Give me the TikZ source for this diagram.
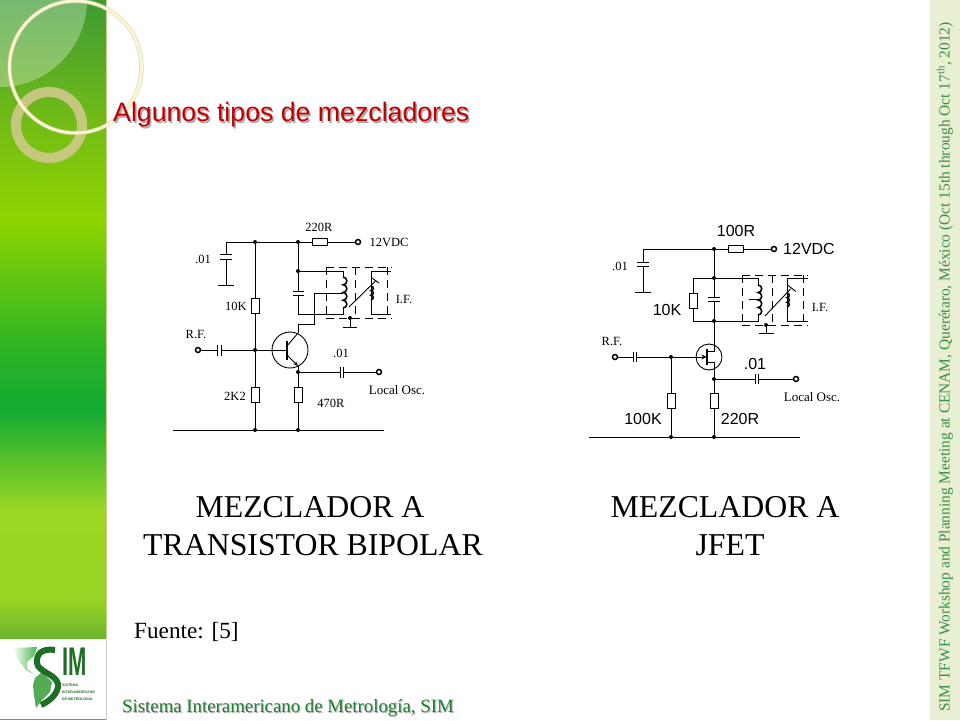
\documentclass[tikz,border=0pt]{standalone}
\usepackage{fontspec}
\setmainfont{Liberation Serif}
\newfontfamily\arialfont{Liberation Sans}
\usetikzlibrary{arrows.meta}

\definecolor{simgreen}{HTML}{1E6E24}
\definecolor{stripbg}{HTML}{E8EFD3}
\definecolor{striptext}{HTML}{3A8F45}
\definecolor{footgreen}{HTML}{1F8232}
\definecolor{titlered}{HTML}{C00000}
\definecolor{ringtan}{HTML}{CFC98A}
\definecolor{circlecream}{HTML}{FBF5D8}

\tikzset{
  wire/.style={line width=0.9},
  dot/.style={circle, fill, inner sep=0, minimum size=4},
  term/.style={circle, draw, line width=1.5, fill=white, inner sep=0, minimum size=5},
  resv/.style={draw, line width=0.9, inner sep=0, minimum width=8, minimum height=15},
  resh/.style={draw, line width=0.9, inner sep=0, minimum width=15, minimum height=7},
  capv/.style 2 args={inner sep=0, outer sep=0, minimum width=#1, minimum height=#2,
    append after command={(\tikzlastnode.north west) edge[draw, line width=0.9] (\tikzlastnode.north east)
      (\tikzlastnode.south west) edge[draw, line width=0.9] (\tikzlastnode.south east)}},
  caph/.style 2 args={inner sep=0, outer sep=0, minimum width=#1, minimum height=#2,
    append after command={(\tikzlastnode.north west) edge[draw, line width=0.9] (\tikzlastnode.south west)
      (\tikzlastnode.north east) edge[draw, line width=0.9] (\tikzlastnode.south east)}},
  winding/.style={line width=1.5},
  shield/.style={line width=0.9, dash pattern=on 8pt off 5pt},
  lab/.style={inner sep=0, font=\fontsize{12.5}{12.5}\selectfont},
  labosc/.style={inner sep=0, font=\fontsize{13}{13}\selectfont},
  labsans/.style={inner sep=0, font=\arialfont\fontsize{16}{16}\selectfont},
  caption/.style={inner sep=0, font=\fontsize{31.8}{32}\selectfont},
  logotext/.style={anchor=west, inner sep=0, simgreen, font=\arialfont\bfseries\fontsize{3.6}{3.6}\selectfont},
}

\begin{document}
\begin{tikzpicture}[x=1pt, y=-1pt]

\useasboundingbox (0,0) rectangle (960,720);
\fill[white] (0,0) rectangle (960,720);

% green panel

\shade[top color={rgb,255:red,62;green,155;blue,52}, bottom color={rgb,255:red,114;green,187;blue,23}] (0,0) rectangle (106,120);
\shade[top color={rgb,255:red,114;green,187;blue,23}, bottom color={rgb,255:red,143;green,212;blue,0}] (0,120) rectangle (106,220);
\shade[top color={rgb,255:red,143;green,212;blue,0}, bottom color={rgb,255:red,44;green,180;blue,37}] (0,220) rectangle (106,350);
\shade[top color={rgb,255:red,44;green,180;blue,37}, bottom color={rgb,255:red,18;green,171;blue,51}] (0,350) rectangle (106,410);
\shade[top color={rgb,255:red,18;green,171;blue,51}, bottom color={rgb,255:red,156;green,214;blue,36}] (0,410) rectangle (106,510);
\shade[top color={rgb,255:red,156;green,214;blue,36}, bottom color={rgb,255:red,152;green,212;blue,36}] (0,510) rectangle (106,600);
\shade[top color={rgb,255:red,152;green,212;blue,36}, bottom color={rgb,255:red,108;green,181;blue,48}] (0,600) rectangle (106,638);
\draw[ringtan, line width=0.8] (106,0) -- (106,638);
\draw[black!20, line width=0.8] (106,638) -- (106,720);
\draw[green!40!gray, line width=1] (0,719) -- (106,719);

% quarter disc and circles

\fill[white, opacity=0.3] (0,0) -- (87,0) arc(0:90:87) -- cycle;
\draw[ringtan, line width=10, opacity=0.9] (49,125) circle (33);
\draw[ringtan, line width=4.5, opacity=0.6] (75.5,67) circle (66);
\draw[circlecream, line width=3] (75.5,67) circle (66);

% title

\node[anchor=west, inner sep=0, black!35, font=\arialfont\fontsize{26.7}{27}\selectfont] (title_shadow) at (114.5,116.5) {Algunos tipos de mezcladores};
\node[anchor=west, inner sep=0, titlered, font=\arialfont\fontsize{26.7}{27}\selectfont] (title) at (113,115) {Algunos tipos de mezcladores};

% right strip

\fill[stripbg] (930,0) rectangle (960,720);
\node[rotate=90, inner sep=0, striptext, font=\fontsize{15.4}{15.4}\selectfont] (strip_text) at (945,367) {SIM TFWF Workshop and Planning Meeting at CENAM, Querétaro, México (Oct 15th through Oct 17\textsuperscript{th}, 2012)};

% logo

\shade[left color=white, right color=green!45!gray] (13,648) -- (37,647) -- (34,656) -- (27,662) -- (27,669) -- (34,674) -- (26,670) -- (18,660) -- cycle;
\fill[green!35!gray] (35,678) -- (42,672) -- (52,682) -- (50,692) -- (42,700) -- (36,708) -- (34,695) -- (33,685) -- cycle;
\draw[simgreen, line width=6] (55,650) .. controls (42,648) and (36,654) .. (37,663) .. controls (38,672) and (56,674) .. (58,684) .. controls (59,694) and (48,702) .. (41,705);
\node[anchor=west, inner sep=0, simgreen, xscale=0.55, font=\arialfont\bfseries\fontsize{40}{40}\selectfont] (logo_im) at (62.5,662) {IM};
\node[logotext] (logo_a) at (62,685) {SISTEMA};
\node[logotext] (logo_b) at (62,692.5) {INTERAMERICANO};
\node[logotext] (logo_c) at (62,699) {DE METROLOGÍA};

% captions

\node[caption] (cap_a1) at (310,507) {MEZCLADOR A};
\node[caption] (cap_a2) at (313,545) {TRANSISTOR BIPOLAR};
\node[caption] (cap_b1) at (725,507) {MEZCLADOR A};
\node[caption] (cap_b2) at (730,545) {JFET};
\node[anchor=west, inner sep=0, font=\fontsize{23.2}{23}\selectfont] (fuente) at (134,632) {Fuente: [5]};
\node[anchor=west, inner sep=0, black!30, font=\fontsize{18.8}{19}\selectfont] (foot_shadow) at (123,708.5) {Sistema Interamericano de Metrología, SIM};
\node[anchor=west, inner sep=0, footgreen, font=\fontsize{18.8}{19}\selectfont] (foot) at (122,707.5) {Sistema Interamericano de Metrología, SIM};

% bipolar mixer, top rail

\coordinate (a_cl) at (226,242);
\node[dot] (a_j1) at (255,242) {};
\node[dot] (a_j2) at (298,242) {};
\node[resh] (a_r220) at (319.5,242) {};
\node[term] (a_vcc) at (358,242) {};
\node[capv={12}{5}] (a_c1) at (226,256.5) {};
\node[capv={16}{0}] (a_g1) at (226,285) {};
\draw[wire] (a_cl) -- (a_j1) -- (a_j2) -- (a_r220) -- (a_vcc);
\draw[wire] (a_cl) -- (a_c1) -- (a_g1);

% bipolar mixer, input

\node[term] (a_rf) at (198,350) {};
\node[caph={4}{11}] (a_c2) at (219.5,350) {};
\node[dot] (a_j3) at (255,350) {};
\node[resv] (a_r10k) at (255,305.5) {};
\node[resv] (a_r2k2) at (255,394.5) {};
\node[dot] (a_j5) at (255,430) {};
\node[dot] (a_j6) at (298,430) {};
\coordinate (a_gl) at (173,430);
\coordinate (a_gr) at (384,430);
\draw[wire] (a_rf) -- (a_c2) -- (a_j3);
\draw[wire] (a_j1) -- (a_r10k) -- (a_j3) -- (a_r2k2) -- (a_j5);
\draw[wire] (a_gl) -- (a_j5) -- (a_j6) -- (a_gr);

% bipolar mixer, transistor

\node[draw, circle, line width=0.9, minimum size=36, inner sep=0] (a_q) at (290,350) {};
\coordinate (a_b) at (287,350);
\coordinate (a_bt) at (287,341);
\coordinate (a_bb) at (287,360);
\coordinate (a_ci) at (287,346);
\coordinate (a_ei) at (287,355);
\coordinate (a_co) at (298,333);
\coordinate (a_eo) at (298,366);
\node[dot] (a_j4) at (298,372) {};
\draw[wire] (a_j3) -- (a_b);
\draw[line width=1.2] (a_bt) -- (a_bb);
\draw[wire] (a_ci) -- (a_co);
\draw[wire, -{Stealth[length=5,width=4]}] (a_ei) -- (a_eo);
\draw[wire] (a_eo) -- (a_j4);
\node[resv] (a_r470) at (298,394.5) {};
\draw[wire] (a_j4) -- (a_r470) -- (a_j6);
\node[caph={3}{11}] (a_c3) at (341.5,372) {};
\node[term] (a_lo) at (379,372) {};
\draw[wire] (a_j4) -- (a_c3) -- (a_lo);

% bipolar mixer, tank and I.F. can

\node[dot] (a_j7) at (298,271) {};
\node[capv={11}{4}] (a_c4) at (298,293) {};
\coordinate (a_tb) at (298,314);
\coordinate (a_l1a) at (343,277);
\coordinate (a_l1b) at (343,308);
\coordinate (a_tap) at (343,293);
\coordinate (a_tapb) at (314,293);
\coordinate (a_colb) at (314,324);
\coordinate (a_colc) at (298,324);
\draw[wire] (a_j2) -- (a_j7) -- (a_c4) -- (a_tb) -| (a_l1b);
\draw[wire] (a_j7) -| (a_l1a);
\draw[winding] (a_l1a) arc(-90:90:3.875) arc(-90:90:3.875) arc(-90:90:3.875) arc(-90:90:3.875);
\draw[wire] (a_co) -- (a_colc) -- (a_colb) -- (a_tapb) -- (a_tap);
\coordinate (a_s1) at (391,271);
\coordinate (a_s2) at (371,271);
\coordinate (a_s3) at (371,314);
\coordinate (a_s4) at (391,314);
\coordinate (a_l2a) at (371,286);
\draw[wire] (a_s1) -- (a_s2) -- (a_s3) -- (a_s4);
\draw[winding] (a_l2a) arc(-90:90:2.3) arc(-90:90:2.3) arc(-90:90:2.3);
\coordinate (a_sl) at (349,307);
\coordinate (a_sh) at (375.5,281);
\coordinate (a_tl) at (372,278);
\coordinate (a_tr) at (379,283);
\draw[wire] (a_sl) -- (a_sh) (a_tl) -- (a_tr);
\coordinate (a_ctl) at (326,267);
\coordinate (a_ctr) at (392,267);
\coordinate (a_cbl) at (326,318);
\coordinate (a_cbr) at (392,318);
\coordinate (a_cmt) at (355,267);
\coordinate (a_cmb) at (355,318);
\coordinate (a_crt) at (387,267);
\coordinate (a_crb) at (387,318);
\draw[shield] (a_ctl) -- (a_ctr) (a_cbl) -- (a_cbr);
\draw[shield] (a_ctl) -- (a_cbl) (a_cmt) -- (a_cmb) (a_crt) -- (a_crb);
\node[dot] (a_j8) at (350,318) {};
\node[capv={14}{0}] (a_g2) at (350,327) {};
\draw[wire] (a_j8) -- (a_g2);

% bipolar mixer, labels

\node[lab] (a_t220) at (319,227) {220R};
\node[lab] (a_t12) at (389,242) {12VDC};
\node[lab] (a_t01a) at (203,259) {.01};
\node[lab] (a_t10k) at (236,306) {10K};
\node[lab] (a_trf) at (196,334) {R.F.};
\node[lab] (a_t2k2) at (235,396) {2K2};
\node[lab] (a_t470) at (331,403) {470R};
\node[lab] (a_t01b) at (341,353) {.01};
\node[labosc] (a_tlo) at (397,390) {Local Osc.};
\node[lab] (a_tif) at (404,299) {I.F.};

% jfet mixer, top rail

\coordinate (b_cl) at (643,249);
\node[dot] (b_j1) at (714,249) {};
\node[resh] (b_r100) at (735.5,249) {};
\node[term] (b_vcc) at (774,249) {};
\node[capv={12}{4}] (b_c1) at (643,264) {};
\node[capv={16}{0}] (b_g1) at (643,292) {};
\draw[wire] (b_cl) -- (b_j1) -- (b_r100) -- (b_vcc);
\draw[wire] (b_cl) -- (b_c1) -- (b_g1);

% jfet mixer, tank

\node[dot] (b_j2) at (714,278) {};
\node[dot] (b_j3) at (714,321) {};
\node[capv={12}{4}] (b_c2) at (714,299.5) {};
\node[resv] (b_r10k) at (693,300.5) {};
\coordinate (b_tl) at (693,278);
\coordinate (b_bl) at (693,321);
\coordinate (b_l1a) at (758,285);
\coordinate (b_l1b) at (758,315);
\coordinate (b_tap) at (758,299);
\coordinate (b_tapb) at (749,299);
\draw[wire] (b_j1) -- (b_j2) -- (b_c2) -- (b_j3);
\draw[wire] (b_j2) -- (b_tl) -- (b_r10k) -- (b_bl) -- (b_j3);
\draw[wire] (b_j2) -| (b_l1a);
\draw[wire] (b_j3) -| (b_l1b);
\draw[wire] (b_tapb) -- (b_tap);
\draw[winding] (b_l1a) arc(-90:90:3.75) arc(-90:90:3.75) arc(-90:90:3.75) arc(-90:90:3.75);
\coordinate (b_s1) at (808,278);
\coordinate (b_s2) at (787,278);
\coordinate (b_s3) at (787,321);
\coordinate (b_s4) at (808,321);
\coordinate (b_l2a) at (787,293);
\draw[wire] (b_s1) -- (b_s2) -- (b_s3) -- (b_s4);
\draw[winding] (b_l2a) arc(-90:90:2.3) arc(-90:90:2.3) arc(-90:90:2.3);
\coordinate (b_sl) at (765,316);
\coordinate (b_sh) at (790.5,289);
\coordinate (b_tl2) at (788,285.5);
\coordinate (b_tr2) at (796,291.5);
\draw[wire] (b_sl) -- (b_sh) (b_tl2) -- (b_tr2);
\coordinate (b_ctl) at (742,275);
\coordinate (b_ctr) at (808,275);
\coordinate (b_cbl) at (742,325);
\coordinate (b_cbr) at (808,325);
\coordinate (b_cmt) at (772,275);
\coordinate (b_cmb) at (772,325);
\coordinate (b_crt) at (803,275);
\coordinate (b_crb) at (803,325);
\draw[shield] (b_ctl) -- (b_ctr) (b_cbl) -- (b_cbr);
\draw[shield] (b_ctl) -- (b_cbl) (b_cmt) -- (b_cmb) (b_crt) -- (b_crb);
\node[dot] (b_j8) at (766,325) {};
\node[capv={15}{0}] (b_g2) at (766,333) {};
\draw[wire] (b_j8) -- (b_g2);

% jfet mixer, input and transistor

\node[term] (b_rf) at (615,357) {};
\node[caph={3.5}{10}] (b_c3) at (635,357) {};
\node[dot] (b_j4) at (671,357) {};
\node[draw, circle, line width=0.9, minimum size=26, inner sep=0] (b_q) at (709,357) {};
\coordinate (b_g) at (706.5,357);
\coordinate (b_bt) at (707,348.5);
\coordinate (b_bb) at (707,365);
\coordinate (b_dl) at (707,351);
\coordinate (b_dr) at (714,351);
\coordinate (b_sc) at (707,362);
\coordinate (b_sr) at (714,362);
\node[dot] (b_j5) at (714,379) {};
\draw[wire] (b_rf) -- (b_c3) -- (b_j4);
\draw[wire, -{Stealth[length=5,width=5]}] (b_j4) -- (b_g);
\draw[line width=2.5] (b_bt) -- (b_bb);
\draw[wire] (b_j3) -- (b_dr) -- (b_dl);
\draw[wire] (b_sc) -- (b_sr) -- (b_j5);

% jfet mixer, output and ground

\node[caph={3}{10}] (b_c4) at (756.5,379) {};
\node[term] (b_lo) at (796,379) {};
\node[resv] (b_r220) at (714,400.5) {};
\node[resv] (b_r100k) at (671,400.5) {};
\node[dot] (b_j6) at (671,437) {};
\node[dot] (b_j7) at (714,437) {};
\coordinate (b_gl) at (589,437);
\coordinate (b_gr) at (800,437);
\draw[wire] (b_j5) -- (b_c4) -- (b_lo);
\draw[wire] (b_j5) -- (b_r220) -- (b_j7);
\draw[wire] (b_j4) -- (b_r100k) -- (b_j6);
\draw[wire] (b_gl) -- (b_j6) -- (b_j7) -- (b_gr);

% jfet mixer, labels

\node[labsans] (b_t100) at (736,231) {100R};
\node[labsans] (b_t12) at (809,249) {12VDC};
\node[lab] (b_t01a) at (620,266) {.01};
\node[labsans] (b_t10k) at (667,310) {10K};
\node[lab] (b_tif) at (820,307) {I.F.};
\node[lab] (b_trf) at (612,341) {R.F.};
\node[labsans] (b_t01b) at (755,364) {.01};
\node[labosc] (b_tlo) at (812,397) {Local Osc.};
\node[labsans] (b_t100k) at (643,419) {100K};
\node[labsans] (b_t220) at (740,419) {220R};

\end{tikzpicture}
\end{document}
